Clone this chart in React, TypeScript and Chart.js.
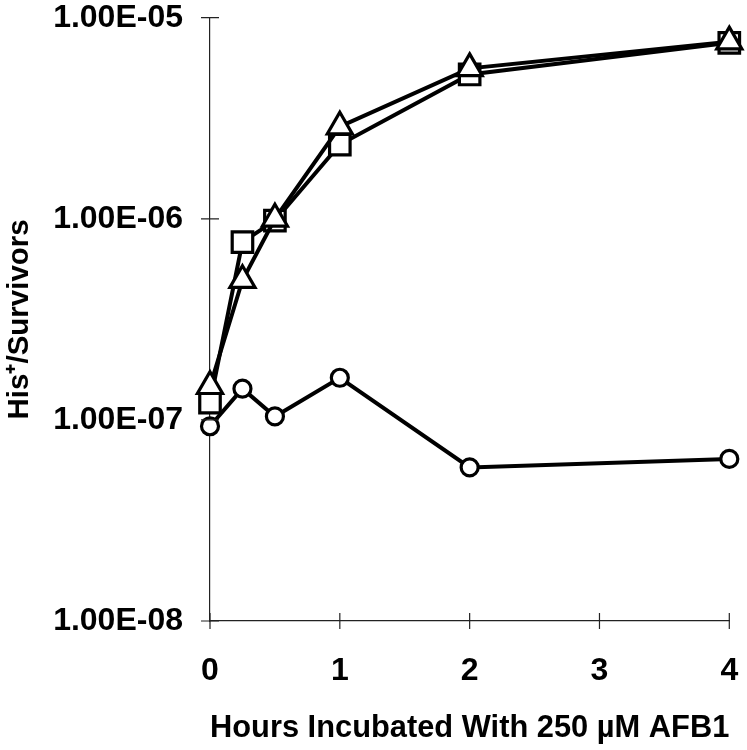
import React, { useEffect, useRef } from 'react';
import { Chart, registerables } from 'chart.js';

Chart.register(...registerables);

const hours = [0, 0.25, 0.5, 1, 2, 4];
const circleValues = [9.3e-8, 1.43e-7, 1.04e-7, 1.62e-7, 5.8e-8, 6.4e-8];
const triangleValues = [1.47e-7, 4.95e-7, 1.0e-6, 2.87e-6, 5.6e-6, 7.6e-6];
const squareValues = [1.22e-7, 7.66e-7, 0.98e-6, 2.34e-6, 5.22e-6, 7.5e-6];

const yTickValues = [1e-8, 1e-7, 1e-6, 1e-5];
const yTickLabels = ['1.00E-08', '1.00E-07', '1.00E-06', '1.00E-05'];
const xTickValues = [0, 1, 2, 3, 4];
const xTickLabels = ['0', '1', '2', '3', '4'];

const xTitle = 'Hours Incubated With 250 \u00B5M AFB1';
const yTitle = 'His\u207A/Survivors';

const FAMILY = "'Liberation Sans', Arial, sans-serif";
const TICK_FONT = { family: FAMILY, weight: 'bold' as const, size: 32 };
const X_TITLE_FONT = { family: FAMILY, weight: 'bold' as const, size: 31.5 };
const Y_TITLE_FONT = { family: FAMILY, weight: 'bold' as const, size: 29.5 };

const crossTicks = {
  id: 'crossTicks',
  afterDraw(chart: any) {
    const ctx = chart.ctx;
    const xs = chart.scales.x;
    const ys = chart.scales.y;
    ctx.save();
    ctx.strokeStyle = '#222';
    ctx.lineWidth = 1.2;
    ctx.beginPath();
    yTickValues.forEach((v) => {
      const py = ys.getPixelForValue(v);
      ctx.moveTo(xs.left - 9, py);
      ctx.lineTo(xs.left + 9, py);
    });
    xTickValues.forEach((v) => {
      const px = xs.getPixelForValue(v);
      ctx.moveTo(px, ys.bottom - 8);
      ctx.lineTo(px, ys.bottom + 8);
    });
    ctx.stroke();
    ctx.restore();
  },
};

const zeroPad = (s: any) => {
  s.paddingTop = 0;
  s.paddingBottom = 0;
  s.paddingLeft = 0;
  s.paddingRight = 0;
};

export default function App() {
  const ref = useRef<HTMLCanvasElement | null>(null);
  useEffect(() => {
    document.body.style.margin = '0';
    Chart.defaults.color = '#000';
    const mk = (values: number[]) => hours.map((h, i) => ({ x: h, y: values[i] }));
    const common = {
      borderColor: '#000',
      backgroundColor: '#fff',
      borderWidth: 4,
      pointBorderColor: '#000',
      pointBackgroundColor: '#fff',
      pointBorderWidth: 3.2,
      clip: false as any,
      tension: 0,
    };
    const chart = new Chart(ref.current!, {
      type: 'line',
      data: {
        datasets: [
          { ...common, label: 'circles', data: mk(circleValues), pointStyle: 'circle', pointRadius: 8.5 },
          { ...common, label: 'triangles', data: mk(triangleValues), pointStyle: 'triangle', pointRadius: 14.5 },
          { ...common, label: 'squares', data: mk(squareValues), pointStyle: 'rect', pointRadius: 14.5 },
        ],
      },
      plugins: [crossTicks],
      options: {
        animation: false,
        responsive: false,
        layout: { padding: { top: 16, right: 16, left: 0, bottom: 0 } },
        plugins: { legend: { display: false }, tooltip: { enabled: false } },
        scales: {
          x: {
            type: 'linear',
            min: 0,
            max: 4,
            afterFit: (s: any) => { s.height = 129; zeroPad(s); },
            afterBuildTicks: (s: any) => { s.ticks = xTickValues.map((v) => ({ value: v })); },
            grid: { display: true, drawOnChartArea: false, drawTicks: false },
            border: { display: true, color: '#222', width: 1.2 },
            ticks: {
              font: TICK_FONT,
              color: '#000',
              padding: 31,
              maxRotation: 0,
              callback: (v: any) => xTickLabels[xTickValues.indexOf(Number(v))],
            },
            title: {
              display: true,
              text: xTitle,
              font: X_TITLE_FONT,
              color: '#000',
              align: 'center',
              padding: { top: 0, bottom: 3 },
            },
          },
          y: {
            type: 'logarithmic',
            min: 1e-8,
            max: 1e-5,
            afterFit: (s: any) => { s.width = 210; zeroPad(s); },
            afterBuildTicks: (s: any) => { s.ticks = yTickValues.map((v) => ({ value: v })); },
            grid: { display: true, drawOnChartArea: false, drawTicks: false },
            border: { display: true, color: '#222', width: 1.2 },
            ticks: {
              font: TICK_FONT,
              color: '#000',
              padding: 27,
              callback: (v: any) => {
                const i = yTickValues.findIndex((t) => Math.abs(Math.log10(t) - Math.log10(Number(v))) < 1e-6);
                return i >= 0 ? yTickLabels[i] : '';
              },
            },
            title: {
              display: true,
              text: yTitle,
              font: Y_TITLE_FONT,
              color: '#000',
              padding: { top: 2, bottom: 0 },
            },
          },
        },
      },
    });
    return () => chart.destroy();
  }, []);
  return <canvas ref={ref} width={747} height={750} style={{ width: 747, height: 750, display: 'block' }} />;
}
